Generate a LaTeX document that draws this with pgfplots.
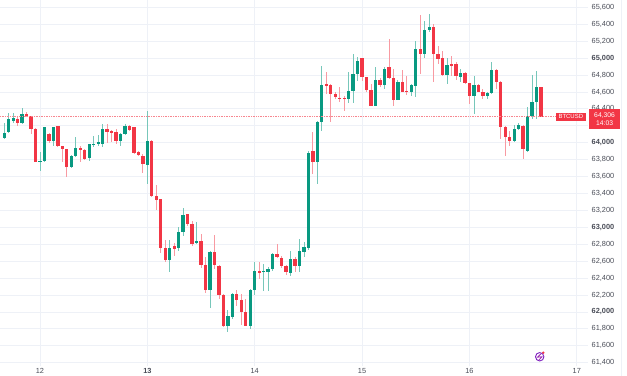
\documentclass[border=0pt]{standalone}
\usepackage{pgfplots}
\pgfplotsset{compat=1.18}
\usepackage{pgfplotstable}
\usepackage{fontspec}
\setmainfont{Liberation Sans}
\definecolor{up}{HTML}{089981}
\definecolor{dn}{HTML}{F23645}
\definecolor{gridc}{HTML}{EEF1F7}
\definecolor{txt}{HTML}{131722}
\definecolor{txtl}{HTML}{4A4D58}
\definecolor{purp}{HTML}{9C27B0}

\pgfplotstableread{
h O H L C
-8 64060 64230 64040 64110
-7 64130 64350 64110 64279
-6 64260 64350 64230 64290
-5 64279 64300 64193 64232
-4 64232 64405 64225 64338
-3 64338 64358 64299 64311
-2 64311 64320 64102 64161
-1 64161 64170 63770 63774
0 63774 63885 63668 63786
1 63786 64190 63770 64181
2 64100 64110 64000 64022
3 64022 64190 63963 64181
4 64193 64200 63950 63957
5 63957 63965 63767 63924
6 63924 63930 63590 63708
7 63708 63850 63700 63845
8 63845 64063 63830 63933
9 63933 63965 63767 63915
10 63915 63920 63790 63806
11 63814 63990 63790 63983
12 63975 64082 63944 63991
13 63991 64090 63960 64011
14 63983 64220 63944 64161
15 64161 64220 64000 64122
16 64141 64152 64011 64122
17 64130 64161 63983 64022
18 64022 64110 63963 64102
19 64102 64220 64095 64200
20 64200 64212 64141 64152
21 64180 64190 63865 63873
22 63885 63900 63840 63853
23 63845 63865 63641 63747
24 63739 64377 63511 64022
25 64022 64030 63360 63372
26 63372 63499 63207 63325
27 63333 63340 62703 62751
28 62751 62852 62585 62616
29 62616 62852 62467 62751
30 62774 62821 62663 62742
31 62751 62999 62722 62940
32 62940 63223 62892 63144
33 63156 63160 63020 63038
34 63038 63077 62781 62802
35 62810 63065 62801 62841
36 62841 62920 62514 62557
37 62557 62650 62222 62262
38 62262 62720 62041 62711
39 62711 62908 62506 62557
40 62545 62550 62151 62199
41 62199 62210 61825 61836
42 61829 62020 61758 61947
43 61947 62230 61915 62210
44 62210 62261 62072 62143
45 62143 62210 61844 62001
46 62001 62151 61830 61836
47 61829 62270 61805 62261
48 62261 62592 62199 62486
49 62486 62585 62388 62467
50 62475 62565 62250 62483
51 62475 62530 62250 62506
52 62506 62703 62486 62683
53 62683 62802 62632 62644
54 62644 62663 62526 62545
55 62545 62550 62435 62467
56 62467 62722 62427 62624
57 62624 62644 62467 62545
58 62545 62864 62467 62722
59 62710 62829 62656 62774
60 62762 63900 62730 63885
61 63904 64122 63629 63767
62 63767 64259 63511 64247
63 64247 64909 64141 64681
64 64693 64838 64574 64673
65 64681 64693 64247 64574
66 64574 64594 64515 64535
67 64531 64654 64483 64523
68 64531 64554 64377 64523
69 64515 64838 64474 64613
70 64613 65047 64474 64811
71 64811 65008 64732 64968
72 64996 65000 64732 64772
73 64772 64780 64594 64625
74 64625 64693 64430 64436
75 64436 64890 64430 64740
76 64740 64770 64660 64681
77 64681 64900 64634 64878
78 64890 65225 64752 64760
79 64760 64870 64436 64507
80 64507 64740 64500 64720
81 64720 64862 64595 64602
82 64610 64791 64563 64602
83 64602 64690 64547 64681
84 64673 65204 64547 65106
85 65106 65508 64811 65047
86 65047 65441 64996 65334
87 65334 65520 65304 65363
88 65363 65402 64720 65047
89 65047 65138 64929 64996
90 64996 65080 64790 64799
91 64799 64996 64693 64917
92 64929 65020 64791 64917
93 64929 64949 64744 64791
94 64776 64870 64717 64823
95 64823 64831 64693 64705
96 64705 64710 64456 64547
97 64547 64791 64338 64681
98 64681 64690 64595 64602
99 64602 64630 64515 64554
100 64554 64600 64515 64586
101 64586 64949 64580 64862
102 64862 64870 64634 64713
103 64720 64725 64043 64188
104 64188 64200 63845 64070
105 64070 64141 63963 64022
106 64022 64208 64010 64161
107 64161 64230 64150 64208
108 64200 64210 63806 63924
109 63904 64417 63895 64311
110 64311 64799 64279 64483
111 64483 64850 64279 64654
112 64654 64660 64300 64306
}\candles

\begin{document}
\begin{tikzpicture}
\useasboundingbox (0,0) rectangle (627bp,376bp);
\fill[white] (0,0) rectangle (627bp,376bp);
\draw[gridc, line width=0.8bp] (621bp,0) -- (621bp,376bp);
\begin{axis}[
  at={(0,10bp)}, anchor=south west,
  scale only axis, width=588bp, height=366bp,
  xmin=-8.94, xmax=122.5, ymin=61361, ymax=65686,
  axis line style={draw=none},
  major tick length=0pt,
  clip=false,
  xtick={0,24,48,72,96,120},
  xticklabels={12,\textbf{13},14,15,16,17},
  ytick={61400,61600,...,65600},
  yticklabels={{61,400},{61,600},{61,800},\textbf{62,000},{62,200},{62,400},{62,600},{62,800},\textbf{63,000},{63,200},{63,400},{63,600},{63,800},\textbf{64,000},{},{64,400},{64,600},{64,800},\textbf{65,000},{65,200},{65,400},{65,600}},
  yticklabel pos=right,
  yticklabel style={font=\fontsize{7.4}{8}\selectfont, text=txtl, anchor=west, xshift=2.5bp, inner sep=1pt},
  xticklabel style={font=\fontsize{7.4}{8}\selectfont, text=txtl, anchor=center, yshift=-4.5bp, inner sep=1pt},
  grid=major, grid style={gridc, line width=0.7bp},
  every axis plot/.append style={draw=none, mark=none, forget plot},
]
% wicks
\addplot+[draw=none, no markers,
  error bars/.cd, y dir=both, y explicit, error mark=none,
  error bar style={draw=up!55!white, line width=0.8bp}]
  table[x=h, y expr={\thisrow{C}>=\thisrow{O} ? (\thisrow{H}+\thisrow{L})/2 : nan},
        y error expr={(\thisrow{H}-\thisrow{L})/2}] {\candles};
\addplot+[draw=none, no markers,
  error bars/.cd, y dir=both, y explicit, error mark=none,
  error bar style={draw=dn!50!white, line width=0.8bp}]
  table[x=h, y expr={\thisrow{C}<\thisrow{O} ? (\thisrow{H}+\thisrow{L})/2 : nan},
        y error expr={(\thisrow{H}-\thisrow{L})/2}] {\candles};
% bodies
\addplot+[draw=none, no markers,
  error bars/.cd, y dir=both, y explicit, error mark=none,
  error bar style={draw=up, line width=3.3bp}]
  table[x=h, y expr={\thisrow{C}>=\thisrow{O} ? (\thisrow{O}+\thisrow{C})/2 : nan},
        y error expr={max(abs(\thisrow{C}-\thisrow{O})/2,6)}] {\candles};
\addplot+[draw=none, no markers,
  error bars/.cd, y dir=both, y explicit, error mark=none,
  error bar style={draw=dn, line width=3.3bp}]
  table[x=h, y expr={\thisrow{C}<\thisrow{O} ? (\thisrow{O}+\thisrow{C})/2 : nan},
        y error expr={max(abs(\thisrow{C}-\thisrow{O})/2,6)}] {\candles};
% last price line
\addplot[draw=dn!60!white, line width=0.7bp, densely dotted] coordinates {(-8.94,64306) (115.3,64306)};
\node[fill=dn, text=white, inner sep=0pt, minimum width=29.5bp, minimum height=8.5bp,
  font=\fontsize{6}{7}\selectfont, anchor=east] at (axis cs:122.0,64306) {BTCUSD};
\node[fill=dn, text=white, inner sep=0pt, minimum width=31bp, minimum height=20bp,
  anchor=north west, align=center, font=\fontsize{6.8}{8.4}\selectfont]
  at (axis cs:122.7,64395) {64,306\\14:03};
% logo
\draw[purp!80!blue, line width=0.9bp] (axis cs:111.7,61470) circle[radius=4.2bp];
\fill[dn] (axis cs:112.5,61518) circle[radius=1.3bp];
\draw[purp, line width=0.8bp] (axis cs:112.0,61505) -- (axis cs:111.2,61465) -- (axis cs:112.2,61470) -- (axis cs:111.5,61430);
\end{axis}
\end{tikzpicture}
\end{document}
